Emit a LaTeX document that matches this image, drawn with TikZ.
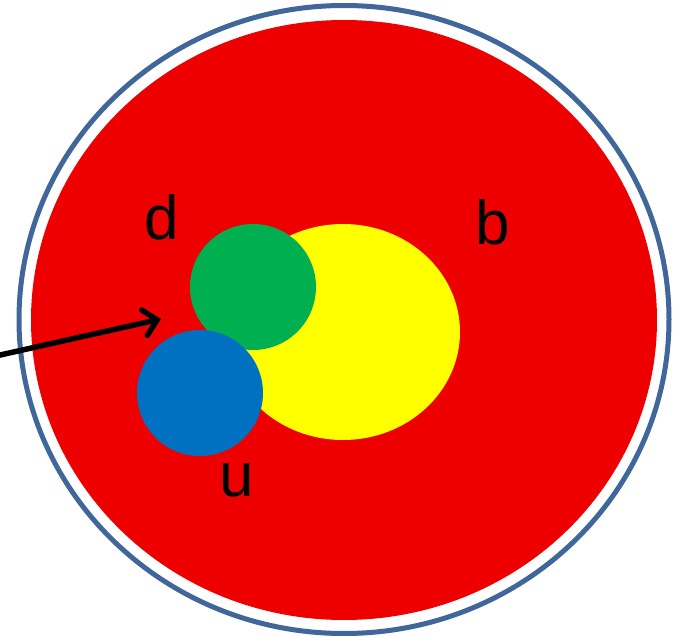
\documentclass[tikz,border=0pt]{standalone}
\usepackage{fontspec}
\setmainfont{Liberation Sans}
\usetikzlibrary{arrows.meta}
\definecolor{ringc}{HTML}{41679A}
\definecolor{redc}{HTML}{EE0000}
\definecolor{yelc}{HTML}{FFFF00}
\definecolor{grnc}{HTML}{00B050}
\definecolor{bluc}{HTML}{0070C0}
\tikzset{
  lbl/.style={font=\fontsize{62}{62}\selectfont, anchor=base, inner sep=0pt},
  blob/.style={draw=none}
}
\begin{document}
\begin{tikzpicture}[x=1pt,y=-1pt]
\useasboundingbox (0,0) rectangle (673,637);
\fill[white] (0,0) rectangle (673,637);
\draw[ringc, line width=5pt] (344,319.5) ellipse [x radius=325, y radius=314];
\fill[redc] (344,320) ellipse [x radius=313, y radius=300];
\fill[yelc] (343,332) ellipse [x radius=117, y radius=108];
\fill[grnc] (253,287) circle [radius=63];
\fill[bluc] (200,393) circle [radius=63];
\node[lbl] (d) at (162,239) {d};
\node[lbl] (b) at (493,244) {b};
\node[lbl] (u) at (237,496) {u};
\coordinate (s) at (-2,355.5);
\coordinate (t) at (161,319);
\draw[line width=5.5pt, -{Straight Barb[length=13pt, width=26pt, line cap=round]}] (s) -- (t);
\end{tikzpicture}
\end{document}
